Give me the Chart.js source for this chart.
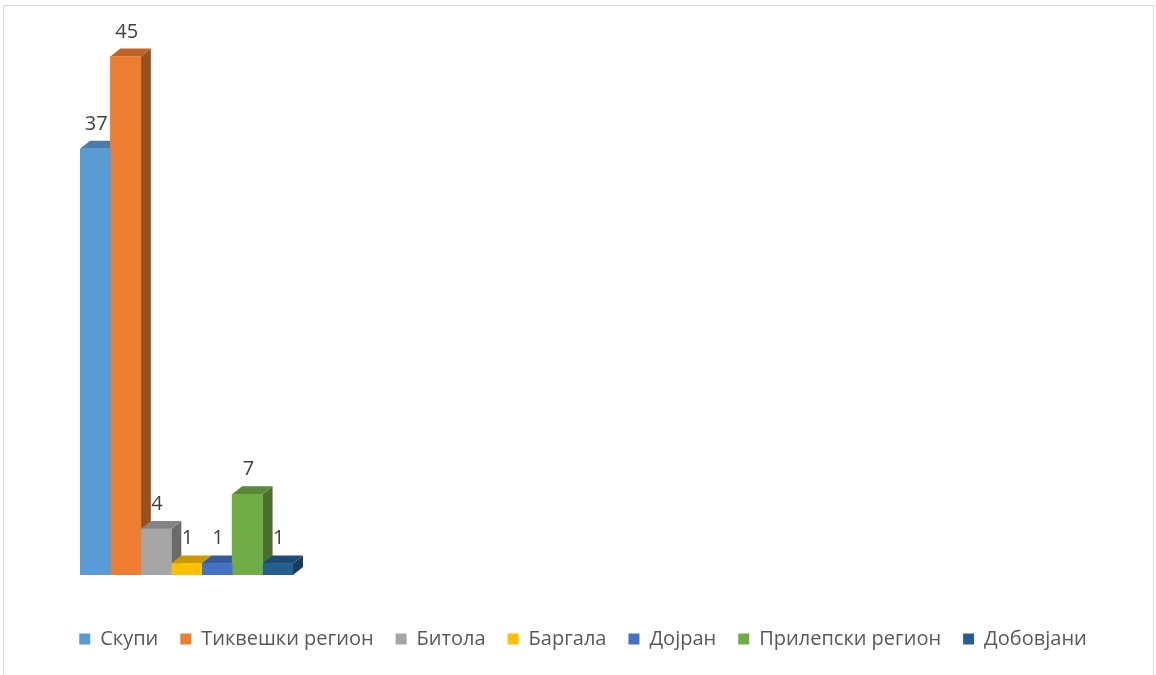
<!DOCTYPE html>
<html>
<head>
<meta charset="utf-8">
<script src="https://cdn.jsdelivr.net/npm/chart.js@4"></script>
<style>
  html, body { margin: 0; padding: 0; background: #ffffff; overflow: hidden; }
  #frame { position: absolute; left: 3px; top: 5px; width: 1151px; height: 700px;
           border: 1px solid #d9d9d9; border-bottom: none; box-sizing: border-box; }
  #wrap { position: absolute; left: 0; top: 0; width: 1156px; height: 675px; }
</style>
</head>
<body>
<div id="frame"></div>
<div id="wrap"><canvas id="c"></canvas></div>
<script>
const categories = [''];
const seriesNames = ['Скупи', 'Тиквешки регион', 'Битола', 'Баргала', 'Дојран', 'Прилепски регион', 'Добовјани'];
const seriesValues = [37, 45, 4, 1, 1, 7, 1];
const seriesColors = ['#5B9BD5', '#ED7D31', '#A5A5A5', '#FFC000', '#4472C4', '#70AD47', '#255E91'];
const yMin = 0;
const yMax = 48;

const DX = 10, DY = 8;
function shade(hex, f) {
  const n = parseInt(hex.slice(1), 16);
  const r = Math.round(((n >> 16) & 255) * f);
  const g = Math.round(((n >> 8) & 255) * f);
  const b = Math.round((n & 255) * f);
  return 'rgb(' + r + ',' + g + ',' + b + ')';
}

const bar3d = {
  id: 'bar3d',
  beforeDatasetsDraw(chart) {
    const ctx = chart.ctx;
    chart.data.datasets.forEach((ds, i) => {
      const meta = chart.getDatasetMeta(i);
      meta.data.forEach(el => {
        const p = el.getProps(['x', 'y', 'base', 'width'], true);
        const l = p.x - p.width / 2, r = p.x + p.width / 2;
        ctx.save();
        ctx.fillStyle = shade(ds.backgroundColor, 0.64);
        ctx.beginPath();
        ctx.moveTo(r, p.y);
        ctx.lineTo(r + DX, p.y - DY);
        ctx.lineTo(r + DX, p.base - DY);
        ctx.lineTo(r, p.base);
        ctx.closePath();
        ctx.fill();
        ctx.fillStyle = shade(ds.backgroundColor, 0.8);
        ctx.beginPath();
        ctx.moveTo(l, p.y);
        ctx.lineTo(l + DX, p.y - DY);
        ctx.lineTo(r + DX, p.y - DY);
        ctx.lineTo(r, p.y);
        ctx.closePath();
        ctx.fill();
        ctx.restore();
      });
    });
  },
  afterDatasetsDraw(chart) {
    const ctx = chart.ctx;
    ctx.save();
    ctx.font = '20px "Open Sans"';
    ctx.fillStyle = '#404040';
    ctx.textAlign = 'center';
    ctx.textBaseline = 'alphabetic';
    chart.data.datasets.forEach((ds, i) => {
      const meta = chart.getDatasetMeta(i);
      meta.data.forEach((el, j) => {
        const p = el.getProps(['x', 'y'], true);
        ctx.fillText(String(ds.data[j]), p.x + 1, p.y - 19);
      });
    });
    ctx.restore();
  }
};

const datasets = seriesNames.map((name, i) => ({
  label: name,
  data: [seriesValues[i]],
  backgroundColor: seriesColors[i],
  borderWidth: 0
}));

new Chart(document.getElementById('c'), {
  type: 'bar',
  data: { labels: categories, datasets },
  plugins: [bar3d],
  options: {
    responsive: true,
    maintainAspectRatio: false,
    animation: false,
    devicePixelRatio: 1,
    layout: { padding: { top: 22, bottom: 16, left: 10, right: 0 } },
    datasets: { bar: { categoryPercentage: 1, barPercentage: 1 } },
    scales: {
      x: {
        type: 'category',
        offset: true,
        grid: { display: false },
        border: { display: false },
        ticks: { display: false },
        afterFit: s => { s.height = 32; }
      },
      y: {
        position: 'left',
        min: yMin,
        max: yMax,
        grid: { display: false },
        border: { display: false },
        ticks: { display: false },
        afterFit: s => { s.width = 70; }
      },
      yRight: {
        position: 'right',
        grid: { display: false },
        border: { display: false },
        ticks: { display: false },
        afterFit: s => { s.width = 863; }
      }
    },
    plugins: {
      tooltip: { enabled: false },
      legend: {
        position: 'bottom',
        labels: {
          boxWidth: 11,
          boxHeight: 11,
          padding: 22,
          color: '#595959',
          font: { family: '"Open Sans"', size: 20 }
        }
      }
    }
  }
});
</script>
</body>
</html>
